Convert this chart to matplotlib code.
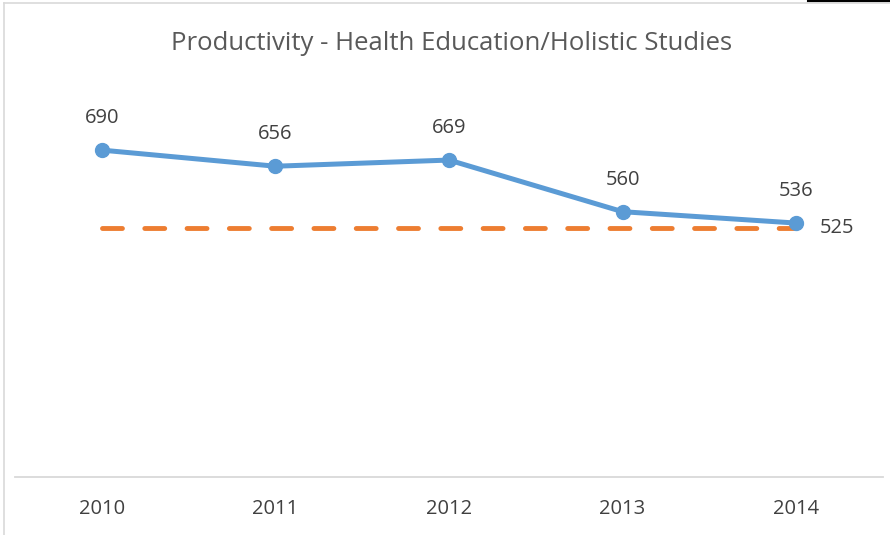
import matplotlib
matplotlib.use("Agg")
import matplotlib.pyplot as plt
from matplotlib.lines import Line2D

years = ["2010", "2011", "2012", "2013", "2014"]
productivity = [690, 656, 669, 560, 536]
target = [525, 525, 525, 525, 525]
title = "Productivity - Health Education/Holistic Studies"

plt.rcParams['font.family'] = ['Open Sans', 'DejaVu Sans']

W, H = 890, 535
fig = plt.figure(figsize=(W / 100, H / 100), dpi=100)
ax = fig.add_axes([15 / W, 1 - 477 / H, 868 / W, (477 - 98) / H])

x = list(range(len(years)))
blue = "#5B9BD5"
orange = "#ED7D31"
text_c = "#404040"

ax.plot(x, target, color=orange, lw=3.5, dashes=(4.1, 4.6), dash_capstyle='round', solid_capstyle='round', zorder=2)
ax.plot(x, productivity, color=blue, lw=3.6, marker='o', markersize=10, zorder=3, solid_capstyle='round')

for xi, v in zip(x, productivity):
    ax.annotate(str(v), (xi, v), xytext=(0, 23), textcoords='offset points',
                ha='center', va='center', fontsize=14.5, color=text_c)
ax.annotate(str(target[-1]), (x[-1], target[-1]), xytext=(17, 0), textcoords='offset points',
            ha='left', va='center', fontsize=14.5, color=text_c)

ax.set_xlim(-0.5, len(years) - 0.5)
ax.set_ylim(0, 800)
ax.set_xticks(x)
ax.set_xticklabels(years, fontsize=14.5, color=text_c)
ax.tick_params(axis='x', length=0, pad=16)
ax.set_yticks([])
for s in ['top', 'right', 'left']:
    ax.spines[s].set_visible(False)
ax.spines['bottom'].set_color('#D9D9D9')
ax.spines['bottom'].set_linewidth(1.3)

fig.text(452 / W, 1 - 43 / H, title, ha='center', va='center', fontsize=18.5, color='#595959')

# chart border lines
fig.add_artist(Line2D([4 / W, 4 / W], [0, 1 - 3 / H], color='#D9D9D9', lw=1.2, transform=fig.transFigure))
fig.add_artist(Line2D([4 / W, 1], [1 - 3 / H, 1 - 3 / H], color='#D9D9D9', lw=1.2, transform=fig.transFigure))
fig.add_artist(Line2D([808 / W, 1], [1 - 0.8 / H, 1 - 0.8 / H], color='black', lw=1.5, transform=fig.transFigure))

fig.savefig("out.png", dpi=100, facecolor='white')
